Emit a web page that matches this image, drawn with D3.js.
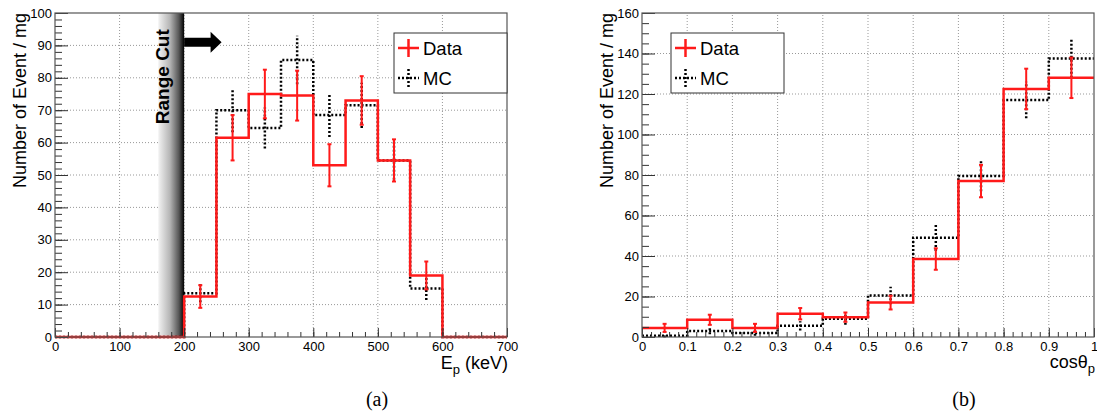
<!DOCTYPE html>
<html>
<head>
<meta charset="utf-8">
<script src="https://cdn.jsdelivr.net/npm/d3@7"></script>
<style>
  body { margin: 0; background: #fff; }
  text { font-family: "Liberation Sans", Arial, sans-serif; fill: #000; }
  .tick text { font-size: 13px; }
</style>
</head>
<body>
<svg id="fig" width="1097" height="415"></svg>
<script>
// (a) proton energy, 50 keV bins from 0 to 700
const eEdges = d3.range(0, 701, 50)
const eData = [0, 0, 0, 0, 12.5, 61.5, 75, 74.5, 53, 73, 54.5, 19, 0, 0]
const eDataErr = [0, 0, 0, 0, 3.5, 7, 7.5, 7.7, 6.5, 7.5, 6.5, 4.3, 0, 0]
const eMC = [0, 0, 0, 0, 13.5, 70, 64.5, 85.5, 68.5, 71.5, 54.5, 15, 0, 0]
const eMCErr = [0, 0, 0, 0, 2.8, 6.8, 6.3, 7.5, 6.8, 7, 6, 3.6, 0, 0]
const rangeCut = [160, 200]

// (b) cos(theta_p), 0.1 bins from 0 to 1
const cEdges = d3.range(0, 11).map(d => d / 10)
const cData = [4.5, 8.5, 4.5, 11.5, 9.8, 17, 38.5, 77, 122.5, 128]
const cDataErr = [2, 2.5, 2, 2.8, 2.3, 3.4, 5.3, 8, 10, 10]
const cMC = [0.6, 3, 2, 5.5, 9, 20.5, 49, 79.5, 117, 137.5]
const cMCErr = [0.8, 1.7, 1.4, 2.3, 3, 4.3, 6.5, 7.5, 9, 9.5]

const svg = d3.select("#fig")

const defs = svg.append("defs")
const grad = defs.append("linearGradient").attr("id", "cutGrad")
grad.append("stop").attr("offset", "0%").attr("stop-color", "#f2f2f2")
grad.append("stop").attr("offset", "45%").attr("stop-color", "#b5b5b5")
grad.append("stop").attr("offset", "80%").attr("stop-color", "#555")
grad.append("stop").attr("offset", "100%").attr("stop-color", "#000")

function panel(cfg) {
  const x = d3.scaleLinear().domain(cfg.xDomain).range([cfg.left, cfg.right])
  const y = d3.scaleLinear().domain(cfg.yDomain).range([337, 13])
  const g = svg.append("g")

  // dotted grid at the major ticks
  g.append("g").selectAll("line").data(cfg.xMajor.slice(1, -1)).join("line")
    .attr("x1", d => x(d)).attr("x2", d => x(d)).attr("y1", y.range()[0]).attr("y2", y.range()[1])
    .attr("stroke", "#999").attr("stroke-dasharray", "1,2")
  g.append("g").selectAll("line").data(cfg.yMajor.slice(1, -1)).join("line")
    .attr("y1", d => y(d)).attr("y2", d => y(d)).attr("x1", x.range()[0]).attr("x2", x.range()[1])
    .attr("stroke", "#999").attr("stroke-dasharray", "1,2")

  if (cfg.extra) cfg.extra(g, x, y)

  const step = (edges, vals) => d3.line().curve(d3.curveStepAfter)
    .x(d => x(d[0])).y(d => y(d[1]))(vals.map((v, i) => [edges[i], v]).concat([[edges[edges.length - 1], vals[vals.length - 1]]]))
  const errs = (edges, vals, err) => vals.map((v, i) => ({ c: (edges[i] + edges[i + 1]) / 2, v, e: err[i] })).filter(d => d.e > 0)

  // MC: dotted black
  g.append("path").attr("d", step(cfg.edges, cfg.mc)).attr("fill", "none")
    .attr("stroke", "#000").attr("stroke-width", 2.5).attr("stroke-dasharray", "2,2")
  g.append("g").selectAll("line").data(errs(cfg.edges, cfg.mc, cfg.mcErr)).join("line")
    .attr("x1", d => x(d.c)).attr("x2", d => x(d.c)).attr("y1", d => y(d.v - d.e)).attr("y2", d => y(d.v + d.e))
    .attr("stroke", "#000").attr("stroke-width", 2.5).attr("stroke-dasharray", "2,2")

  // Data: solid red with error bars
  g.append("path").attr("d", step(cfg.edges, cfg.data)).attr("fill", "none")
    .attr("stroke", "#ff1a1a").attr("stroke-width", 2.5)
  const eb = g.append("g").selectAll("g").data(errs(cfg.edges, cfg.data, cfg.dataErr)).join("g")
    .attr("stroke", "#ff1a1a").attr("stroke-width", 2)
  eb.append("line").attr("x1", d => x(d.c)).attr("x2", d => x(d.c)).attr("y1", d => y(d.v - d.e)).attr("y2", d => y(d.v + d.e))
  eb.append("line").attr("x1", d => x(d.c) - 2).attr("x2", d => x(d.c) + 2).attr("y1", d => y(d.v - d.e)).attr("y2", d => y(d.v - d.e))
  eb.append("line").attr("x1", d => x(d.c) - 2).attr("x2", d => x(d.c) + 2).attr("y1", d => y(d.v + d.e)).attr("y2", d => y(d.v + d.e))

  if (cfg.over) cfg.over(g, x, y)

  // axes, ROOT style ticks pointing inward
  const ax = (gen, vals, size, fmt) => gen.tickValues(vals).tickSize(-size).tickFormat(fmt)
  const xa = g.append("g").attr("transform", `translate(0,${y.range()[0]})`)
  xa.call(ax(d3.axisBottom(x), cfg.xMinor, 5, "").tickPadding(5))
  xa.append("g").call(ax(d3.axisBottom(x), cfg.xMajor, 9, cfg.xFmt).tickPadding(5))
  const ya = g.append("g").attr("transform", `translate(${x.range()[0]},0)`)
  ya.call(ax(d3.axisLeft(y), cfg.yMinor, 7, "").tickPadding(3))
  ya.append("g").call(ax(d3.axisLeft(y), cfg.yMajor, 13, d3.format("d")).tickPadding(3))
  g.selectAll(".domain").remove()
  g.selectAll(".tick line").attr("stroke", "#333")
  g.selectAll(".tick text").attr("fill", "#111")

  g.append("rect").attr("x", x.range()[0]).attr("y", y.range()[1])
    .attr("width", x.range()[1] - x.range()[0]).attr("height", y.range()[0] - y.range()[1])
    .attr("fill", "none").attr("stroke", "#555").attr("stroke-width", 1.2)

  // titles
  g.append("text").attr("transform", `translate(${cfg.left - 29},13) rotate(-90)`)
    .attr("text-anchor", "end").attr("font-size", 18).text("Number of Event / mg")
  const xt = g.append("text").attr("x", cfg.right + 1).attr("y", cfg.xTitleY)
    .attr("text-anchor", "end").attr("font-size", 18)
  xt.append("tspan").text(cfg.xTitle[0])
  xt.append("tspan").attr("font-size", 13).attr("dy", 5).text(cfg.xTitle[1])
  if (cfg.xTitle[2]) xt.append("tspan").attr("dy", -5).text(cfg.xTitle[2])
  svg.append("text").attr("x", (cfg.left + cfg.right) / 2 + 96).attr("y", 406)
    .attr("text-anchor", "middle").style("font-family", "'Liberation Serif', 'Times New Roman', serif")
    .attr("font-size", 20).text(cfg.caption)

  // legend
  const lg = g.append("g").attr("transform", `translate(${cfg.legendX},33)`)
  lg.append("rect").attr("width", 113).attr("height", 60).attr("fill", "#fff").attr("stroke", "#333")
  lg.append("line").attr("x1", 4).attr("x2", 25).attr("y1", 15).attr("y2", 15).attr("stroke", "#ff1a1a").attr("stroke-width", 2.5)
  lg.append("line").attr("x1", 14.5).attr("x2", 14.5).attr("y1", 6).attr("y2", 24).attr("stroke", "#ff1a1a").attr("stroke-width", 2.5)
  lg.append("line").attr("x1", 4).attr("x2", 25).attr("y1", 45).attr("y2", 45).attr("stroke", "#000").attr("stroke-width", 2.5).attr("stroke-dasharray", "2,2")
  lg.append("line").attr("x1", 14.5).attr("x2", 14.5).attr("y1", 36).attr("y2", 55).attr("stroke", "#000").attr("stroke-width", 2.5).attr("stroke-dasharray", "2,2")
  lg.append("text").attr("x", 29).attr("y", 21.5).attr("font-size", 18.5).text("Data")
  lg.append("text").attr("x", 29).attr("y", 51.5).attr("font-size", 18.5).text("MC")
}

panel({
  left: 55, right: 507, xDomain: [0, 700], yDomain: [0, 100],
  edges: eEdges, data: eData, dataErr: eDataErr, mc: eMC, mcErr: eMCErr,
  xMajor: d3.range(0, 701, 100), xMinor: d3.range(0, 701, 20),
  yMajor: d3.range(0, 101, 10), yMinor: d3.range(0, 101, 2),
  xFmt: d3.format("d"), xTitle: ["E", "p", " (keV)"], xTitleY: 369,
  caption: "(a)", legendX: 394,
  extra: (g, x, y) => {
    g.append("rect").attr("x", x(rangeCut[0])).attr("y", y(100))
      .attr("width", x(rangeCut[1]) - x(rangeCut[0])).attr("height", y(0) - y(100))
      .attr("fill", "url(#cutGrad)")
  },
  over: (g, x, y) => {
    const x0 = x(rangeCut[1]), x1 = x(258), yc = y(91)
    g.append("path").attr("fill", "#000")
      .attr("d", `M${x0},${yc - 4.5}H${x1 - 11}V${yc - 10.5}L${x1},${yc}L${x1 - 11},${yc + 10.5}V${yc + 4.5}H${x0}Z`)
    g.append("text").attr("transform", `translate(${x(rangeCut[1]) - 15},${y(95)}) rotate(-90)`)
      .attr("text-anchor", "end").attr("font-size", 19).attr("font-weight", "bold").text("Range Cut")
  }
})

panel({
  left: 642, right: 1094, xDomain: [0, 1], yDomain: [0, 160],
  edges: cEdges, data: cData, dataErr: cDataErr, mc: cMC, mcErr: cMCErr,
  xMajor: d3.range(0, 11).map(d => d / 10), xMinor: d3.range(0, 51).map(d => d / 50),
  yMajor: d3.range(0, 161, 20), yMinor: d3.range(0, 161, 5),
  xFmt: d => d === 0 ? "0" : d === 1 ? "1" : d3.format(".1f")(d), xTitle: ["cosθ", "p"], xTitleY: 368,
  caption: "(b)", legendX: 671
})
</script>
</body>
</html>
